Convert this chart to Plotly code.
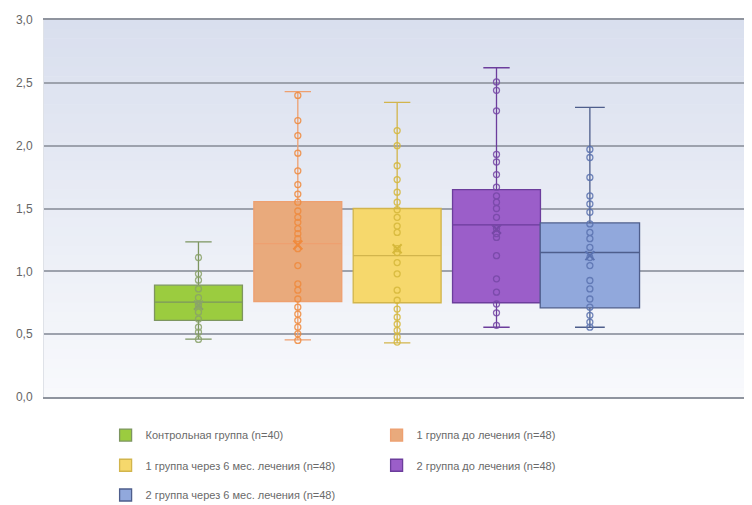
import plotly.graph_objects as go

# ---- data ----
groups = [
    "Контрольная группа (n=40)",
    "1 группа до лечения (n=48)",
    "1 группа через 6 мес. лечения (n=48)",
    "2 группа до лечения (n=48)",
    "2 группа через 6 мес. лечения (n=48)",
]
q1 = [0.61, 0.76, 0.75, 0.75, 0.71]
median = [0.755, 1.22, 1.125, 1.37, 1.15]
q3 = [0.89, 1.555, 1.50, 1.65, 1.385]
lower = [0.46, 0.455, 0.43, 0.555, 0.555]
upper = [1.235, 2.43, 2.345, 2.62, 2.305]
means = [0.73, 1.21, 1.18, 1.335, 1.125]

pts_control = [1.11, 0.98, 0.93, 0.86, 0.79, 0.74, 0.73, 0.675, 0.62, 0.556, 0.516, 0.458]
pts_g1_before = [2.40, 2.20, 2.08, 1.94, 1.80, 1.69, 1.615, 1.55, 1.48, 1.43, 1.39, 1.34, 1.30,
                 1.26, 1.18, 1.046, 0.90, 0.85, 0.78, 0.715, 0.66, 0.61, 0.556, 0.503, 0.45]
pts_g1_after = [2.12, 2.0, 1.84, 1.73, 1.63, 1.55, 1.49, 1.43, 1.36, 1.31, 1.18, 1.15, 1.07,
                0.98, 0.85, 0.77, 0.70, 0.635, 0.58, 0.53, 0.477, 0.437]
pts_g2_before = [2.507, 2.44, 2.277, 1.93, 1.87, 1.77, 1.67, 1.60, 1.55, 1.50, 1.43, 1.34,
                 1.30, 1.27, 1.125, 0.94, 0.834, 0.74, 0.67, 0.57]
pts_g2_after = [1.97, 1.906, 1.747, 1.60, 1.536, 1.47, 1.377, 1.31, 1.26, 1.19, 1.11, 1.046,
                0.927, 0.86, 0.78, 0.715, 0.65, 0.596, 0.556]
points = [pts_control, pts_g1_before, pts_g1_after, pts_g2_before, pts_g2_after]

y_ticks = [0.0, 0.5, 1.0, 1.5, 2.0, 2.5, 3.0]

# ---- styling / layout ----
positions = [1, 2, 3, 4, 4.94]
widths = [0.885, 0.885, 0.885, 0.885, 1.0]
fills = ["#9bcc3f", "#e9aa7c", "#f6d86c", "#9b5ec9", "#91a8dc"]
lines = ["#7d9560", "#eea070", "#d2b54c", "#6c3d9c", "#4e5e8c"]
pt_colors = ["#8aa36a", "#f08a3c", "#d6b83a", "#7648a6", "#5a72b0"]
legend_ids = ["legend", "legend", "legend2", "legend2", "legend3"]

fig = go.Figure()

for i, g in enumerate(groups):
    fig.add_trace(go.Box(
        name=g,
        x=[positions[i]],
        q1=[q1[i]], median=[median[i]], q3=[q3[i]],
        lowerfence=[lower[i]], upperfence=[upper[i]],
        width=widths[i],
        whiskerwidth=0.3,
        fillcolor=fills[i],
        line=dict(color=lines[i], width=1.3),
        boxpoints=False,
        hoverinfo="skip",
        legend=legend_ids[i],
        showlegend=True,
    ))

for i, g in enumerate(groups):
    fig.add_trace(go.Scatter(
        x=[positions[i]] * len(points[i]), y=points[i],
        mode="markers",
        marker=dict(symbol="circle-open", size=6, color=pt_colors[i], line=dict(width=1.3)),
        opacity=0.85,
        showlegend=False, hoverinfo="skip",
    ))
    fig.add_trace(go.Scatter(
        x=[positions[i]], y=[means[i]],
        mode="markers",
        marker=dict(symbol="x-thin-open", size=9, color=pt_colors[i], line=dict(width=2)),
        showlegend=False, hoverinfo="skip",
    ))

# vertical background gradient
shapes = []
n = 40
top = (217, 223, 238)
bot = (248, 249, 252)
for k in range(n):
    t = k / (n - 1)
    c = tuple(round(top[j] + (bot[j] - top[j]) * t) for j in range(3))
    shapes.append(dict(type="rect", xref="paper", yref="paper",
                       x0=0, x1=1, y0=1 - (k + 1) / n, y1=1 - k / n + 0.001,
                       fillcolor="rgb(%d,%d,%d)" % c, line=dict(width=0), layer="below"))

legend_common = dict(orientation="h", entrywidth=226, entrywidthmode="pixels",
                     xanchor="left", yanchor="middle", bgcolor="rgba(0,0,0,0)",
                     font=dict(family="Liberation Sans, Arial, sans-serif", size=11, color="#6a6a6a"),
                     itemclick=False, itemdoubleclick=False)

# the page body adds an 8px margin, so the figure is 8px smaller on each axis
fig.update_layout(
    width=744, height=497,
    margin=dict(l=36, r=0, t=12, b=108, autoexpand=False),
    paper_bgcolor="white",
    plot_bgcolor="#eef0f7",
    separators=", ",
    boxmode="overlay",
    shapes=shapes,
    font=dict(family="Liberation Sans, Arial, sans-serif", color="#666666"),
    xaxis=dict(range=[-0.555, 6.572], showticklabels=False, showgrid=False,
               zeroline=False, showline=True, linecolor="#8f949e", linewidth=1.6,
               mirror=True, fixedrange=True, automargin=False),
    yaxis=dict(range=[0, 3], tickvals=y_ticks, tickformat=".1f",
               showgrid=True, gridcolor="#9da2ad", gridwidth=1.6,
               zeroline=False, showline=True, linecolor="#dfe2e8", linewidth=1,
               tickfont=dict(size=12, color="#666666"),
               ticks="outside", ticklen=8, tickcolor="rgba(0,0,0,0)", fixedrange=True,
               automargin=False),
    legend=dict(x=0.087, y=-0.101, **legend_common),
    legend2=dict(x=0.087, y=-0.181, **legend_common),
    legend3=dict(x=0.087, y=-0.260, **legend_common),
)

fig.write_html("out.html")
